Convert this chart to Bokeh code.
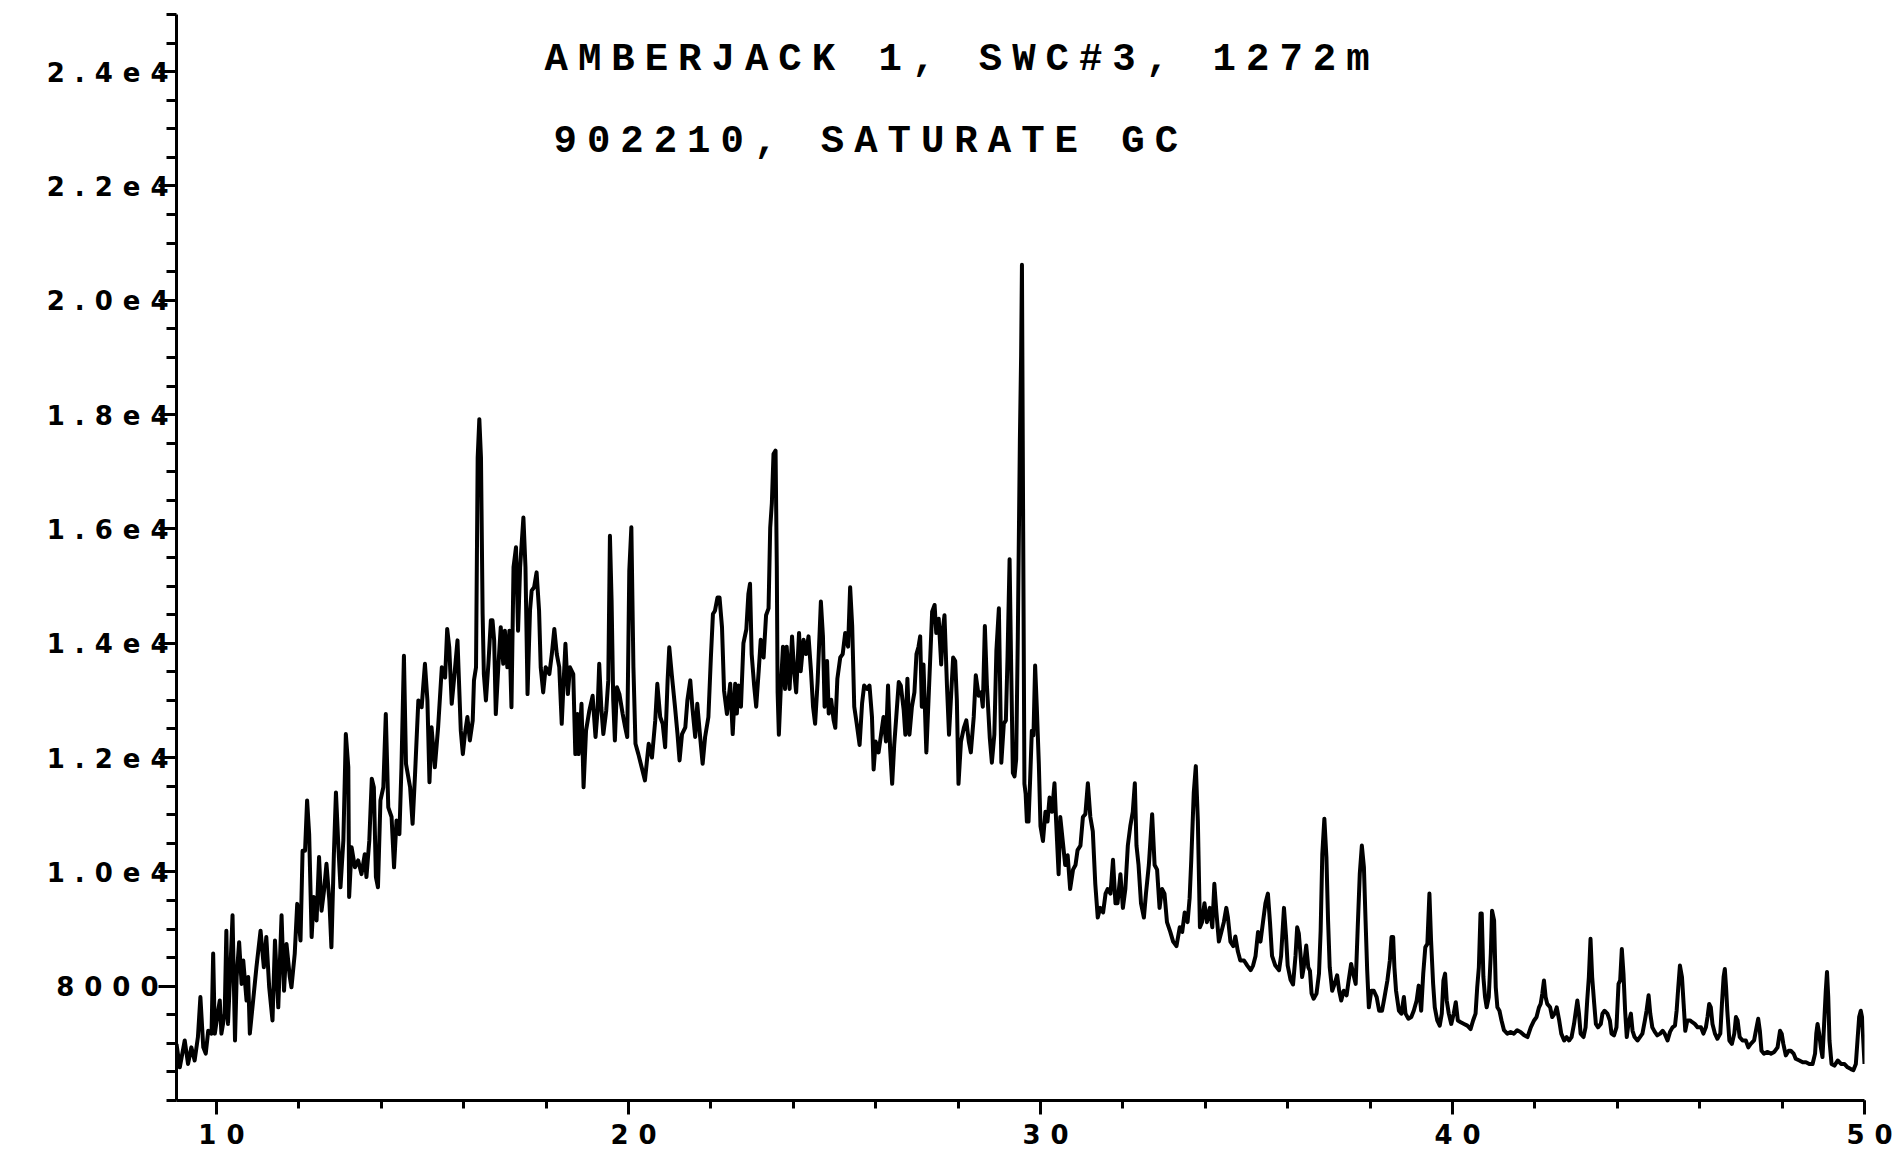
from bokeh.plotting import figure
from bokeh.models import Label, FixedTicker, Range1d, InlineStyleSheet
from bokeh.embed import file_html
from bokeh.resources import INLINE

# Saturate-fraction GC trace: (retention time [min], detector response) by time window
trace_09_16 = [
    (9.03, 6990), (9.11, 6580), (9.23, 7050), (9.31, 6640), (9.39, 6930), (9.47, 6700),
    (9.55, 7110), (9.61, 7810), (9.68, 6930), (9.74, 6820), (9.80, 7220), (9.88, 7170),
    (9.92, 8570), (9.96, 7170), (10.04, 7570), (10.08, 7750), (10.12, 7170), (10.20, 7520),
    (10.24, 8970), (10.28, 7340), (10.34, 8330), (10.39, 9240), (10.45, 7050), (10.49, 8160),
    (10.55, 8770), (10.61, 8040), (10.65, 8450), (10.73, 7750), (10.77, 8160), (10.81, 7170),
    (10.89, 7750), (10.97, 8330), (11.07, 8970), (11.15, 8330), (11.21, 8860), (11.28, 7980),
    (11.36, 7400), (11.42, 8800), (11.50, 7630), (11.58, 9240), (11.64, 7920), (11.70, 8740),
    (11.78, 8160), (11.82, 7980), (11.90, 8570), (11.96, 9440), (12.04, 8800), (12.09, 10370),
    (12.15, 10370), (12.20, 11250), (12.25, 10660), (12.31, 8860), (12.36, 9560), (12.43, 9150),
    (12.49, 10260), (12.55, 9320), (12.61, 9670), (12.67, 10140), (12.74, 9500), (12.79, 8680),
    (12.85, 10310), (12.90, 11390), (12.96, 10430), (13.01, 9730), (13.08, 10550), (13.14, 12410),
    (13.20, 11830), (13.22, 9560), (13.28, 10430), (13.36, 10080), (13.44, 10200), (13.52, 9960),
    (13.60, 10310), (13.64, 9910), (13.71, 10550), (13.77, 11630), (13.82, 11480), (13.87, 9910),
    (13.92, 9730), (13.98, 11250), (14.05, 11480), (14.11, 12760), (14.17, 11130), (14.25, 10960),
    (14.31, 10080), (14.37, 10900), (14.44, 10660), (14.49, 11830), (14.55, 13780), (14.60, 11890),
    (14.70, 11480), (14.76, 10840), (14.82, 11710), (14.90, 13000), (14.98, 12880), (15.06, 13640),
    (15.12, 13000), (15.17, 11570), (15.22, 12530), (15.30, 11830), (15.38, 12530), (15.47, 13580),
    (15.55, 13400), (15.60, 14250), (15.65, 13930), (15.71, 12940), (15.77, 13400), (15.85, 14050),
]

trace_16_23 = [
    (15.93, 12470), (15.98, 12060), (16.03, 12410), (16.09, 12710), (16.15, 12300), (16.22, 12650),
    (16.25, 13350), (16.30, 13580), (16.34, 17250), (16.38, 17920), (16.42, 17250), (16.46, 14510),
    (16.49, 13460), (16.54, 13000), (16.60, 13640), (16.66, 14400), (16.70, 14400), (16.74, 14050),
    (16.78, 12760), (16.84, 13580), (16.90, 14280), (16.96, 13640), (17.00, 14220), (17.06, 13580),
    (17.11, 14220), (17.16, 12880), (17.21, 15330), (17.27, 15680), (17.32, 14220), (17.37, 15330),
    (17.45, 16200), (17.50, 15330), (17.55, 13110), (17.61, 14570), (17.65, 14920), (17.71, 14980),
    (17.77, 15240), (17.83, 14570), (17.87, 13580), (17.93, 13140), (17.99, 13580), (18.08, 13460),
    (18.14, 13810), (18.20, 14250), (18.26, 13810), (18.32, 13580), (18.38, 12590), (18.42, 13230),
    (18.47, 13990), (18.53, 13110), (18.58, 13580), (18.66, 13460), (18.71, 12060), (18.76, 12760),
    (18.79, 12060), (18.86, 12940), (18.91, 11480), (18.97, 12470), (19.05, 12820), (19.13, 13080),
    (19.20, 12360), (19.25, 12820), (19.29, 13640), (19.34, 12880), (19.39, 12410), (19.46, 12820),
    (19.51, 13350), (19.55, 15880), (19.59, 14750), (19.63, 13000), (19.67, 12300), (19.72, 13230),
    (19.78, 13110), (19.86, 12760), (19.92, 12530), (19.97, 12360), (20.02, 15270), (20.07, 16030),
    (20.12, 13580), (20.17, 12240), (20.24, 12060), (20.32, 11830), (20.40, 11600), (20.49, 12240),
    (20.57, 12000), (20.65, 12650), (20.70, 13290), (20.77, 12710), (20.83, 12590), (20.89, 12180),
    (20.95, 13350), (20.99, 13930), (21.05, 13460), (21.13, 12880), (21.19, 12410), (21.24, 11950),
    (21.30, 12410), (21.38, 12530), (21.43, 13000), (21.50, 13350), (21.55, 12880), (21.62, 12360),
    (21.67, 12940), (21.74, 12360), (21.80, 11890), (21.86, 12360), (21.94, 12710), (22.00, 13750),
    (22.05, 14510), (22.10, 14570), (22.16, 14800), (22.21, 14800), (22.27, 14280), (22.32, 13170),
    (22.39, 12760), (22.47, 13290), (22.53, 12410), (22.59, 13290),
]

trace_23_30 = [
    (22.63, 12770), (22.67, 13260), (22.73, 12890), (22.79, 14000), (22.86, 14240), (22.91, 14860),
    (22.95, 15040), (22.99, 13810), (23.05, 13260), (23.10, 12890), (23.16, 13510), (23.21, 14060),
    (23.28, 13750), (23.34, 14490), (23.40, 14610), (23.44, 16020), (23.48, 16450), (23.52, 17310),
    (23.57, 17370), (23.60, 15350), (23.62, 13140), (23.65, 12400), (23.70, 13260), (23.75, 13940),
    (23.80, 13200), (23.84, 13940), (23.91, 13200), (23.97, 14120), (24.02, 13510), (24.07, 13140),
    (24.14, 14180), (24.18, 13510), (24.25, 14060), (24.31, 13810), (24.37, 14120), (24.43, 13510),
    (24.48, 12890), (24.53, 12590), (24.59, 13320), (24.67, 14730), (24.72, 14120), (24.76, 12890),
    (24.82, 13690), (24.86, 12770), (24.92, 13010), (24.98, 12650), (25.02, 12520), (25.07, 13380),
    (25.14, 13750), (25.20, 13810), (25.26, 14180), (25.33, 13940), (25.38, 14980), (25.43, 14300),
    (25.48, 12890), (25.54, 12590), (25.61, 12220), (25.67, 12950), (25.72, 13260), (25.79, 13200),
    (25.85, 13260), (25.91, 12710), (25.95, 11790), (26.00, 12280), (26.07, 12090), (26.13, 12400),
    (26.19, 12710), (26.25, 12280), (26.30, 13260), (26.35, 12160), (26.40, 11540), (26.45, 12220),
    (26.50, 12710), (26.56, 13320), (26.61, 13260), (26.68, 12830), (26.72, 12400), (26.77, 13380),
    (26.82, 12400), (26.88, 12890), (26.94, 13140), (26.99, 13810), (27.04, 13940), (27.08, 14120),
    (27.12, 12890), (27.16, 13630), (27.23, 12090), (27.29, 13140), (27.37, 14550), (27.43, 14670),
    (27.47, 14180), (27.53, 14430), (27.59, 13630), (27.63, 14240), (27.67, 14490), (27.73, 13260),
    (27.78, 12400), (27.83, 13080), (27.88, 13750), (27.93, 13690), (27.97, 13010), (28.01, 11540),
    (28.07, 12280), (28.14, 12520), (28.20, 12650), (28.26, 12280), (28.31, 12090), (28.38, 12710),
    (28.43, 13440), (28.50, 13080), (28.56, 13140), (28.60, 12890), (28.65, 14300), (28.70, 13260),
    (28.77, 12340), (28.82, 11910), (28.88, 12400), (28.93, 13870), (28.99, 14610), (29.05, 11910),
    (29.11, 12590), (29.16, 12650), (29.20, 13750), (29.25, 15470), (29.29, 13510), (29.33, 11730),
    (29.37, 11670), (29.41, 11970), (29.45, 14120), (29.50, 17550), (29.53, 19030), (29.55, 20620),
    (29.58, 15960), (29.61, 11540), (29.64, 11360),
]

trace_30_36 = [
    (29.67, 10880), (29.71, 10880), (29.75, 11640), (29.79, 12470), (29.83, 12390), (29.87, 13610),
    (29.91, 12890), (29.96, 11890), (30.00, 10800), (30.06, 10540), (30.12, 11050), (30.17, 10880),
    (30.22, 11300), (30.28, 11050), (30.34, 11550), (30.38, 10880), (30.44, 9960), (30.48, 10960),
    (30.54, 10540), (30.60, 10120), (30.66, 10290), (30.72, 9700), (30.79, 10040), (30.85, 10120),
    (30.90, 10380), (30.97, 10460), (31.03, 10960), (31.09, 11010), (31.15, 11550), (31.21, 10960),
    (31.27, 10710), (31.33, 9790), (31.39, 9200), (31.45, 9370), (31.52, 9290), (31.58, 9620),
    (31.63, 9700), (31.70, 9620), (31.76, 10210), (31.82, 9450), (31.87, 9450), (31.94, 9960),
    (32.00, 9370), (32.06, 9700), (32.12, 10460), (32.18, 10800), (32.24, 11050), (32.29, 11550),
    (32.33, 10460), (32.38, 10120), (32.44, 9450), (32.51, 9200), (32.56, 9620), (32.63, 10120),
    (32.71, 11010), (32.77, 10120), (32.83, 10040), (32.89, 9370), (32.95, 9700), (33.01, 9620),
    (33.07, 9120), (33.15, 8950), (33.22, 8780), (33.30, 8700), (33.38, 9030), (33.44, 8950),
    (33.50, 9290), (33.57, 9120), (33.62, 9540), (33.66, 10210), (33.72, 11380), (33.77, 11850),
    (33.82, 10880), (33.87, 9030), (33.92, 9120), (33.98, 9450), (34.04, 9120), (34.11, 9370),
    (34.17, 9030), (34.22, 9790), (34.27, 9290), (34.33, 8780), (34.39, 8950), (34.45, 9120),
    (34.51, 9370), (34.55, 9200), (34.61, 8780), (34.68, 8700), (34.73, 8870), (34.79, 8610),
    (34.85, 8450), (34.94, 8450), (35.02, 8360), (35.10, 8280), (35.16, 8360), (35.22, 8530),
    (35.28, 8950), (35.34, 8780), (35.40, 9120), (35.46, 9450), (35.52, 9620), (35.57, 9120),
    (35.62, 8530), (35.70, 8360), (35.79, 8280), (35.84, 8530), (35.91, 9370), (35.96, 8870),
    (36.00, 8360), (36.07, 8110), (36.13, 8030), (36.19, 8530),
]

trace_36_43 = [
    (36.23, 9030), (36.27, 8920), (36.31, 8570), (36.35, 8160), (36.39, 8330), (36.45, 8710),
    (36.50, 8330), (36.54, 8270), (36.58, 7870), (36.63, 7780), (36.70, 7870), (36.76, 8220),
    (36.80, 8970), (36.84, 10310), (36.89, 10930), (36.94, 10260), (36.98, 9150), (37.02, 8330),
    (37.08, 7920), (37.14, 8040), (37.20, 8190), (37.25, 7920), (37.30, 7750), (37.36, 7920),
    (37.43, 7840), (37.48, 8100), (37.54, 8390), (37.59, 8220), (37.65, 8040), (37.70, 9030),
    (37.75, 9970), (37.80, 10460), (37.85, 10080), (37.89, 9150), (37.93, 8270), (37.97, 7630),
    (38.03, 7920), (38.09, 7920), (38.16, 7810), (38.22, 7570), (38.29, 7570), (38.35, 7810),
    (38.42, 8100), (38.48, 8450), (38.52, 8860), (38.56, 8860), (38.59, 8330), (38.63, 7920),
    (38.70, 7570), (38.76, 7520), (38.82, 7810), (38.86, 7520), (38.93, 7430), (39.00, 7460),
    (39.06, 7570), (39.13, 7750), (39.18, 8010), (39.24, 7570), (39.29, 8220), (39.34, 8680),
    (39.39, 8740), (39.44, 9620), (39.48, 8800), (39.53, 8040), (39.57, 7630), (39.63, 7400),
    (39.69, 7310), (39.74, 7520), (39.78, 8100), (39.82, 8220), (39.86, 7750), (39.91, 7520),
    (39.97, 7340), (40.03, 7520), (40.08, 7720), (40.13, 7400), (40.20, 7370), (40.28, 7340),
    (40.36, 7310), (40.44, 7250), (40.50, 7400), (40.56, 7520), (40.60, 7980), (40.64, 8330),
    (40.68, 9270), (40.71, 9270), (40.75, 8160), (40.79, 7810), (40.83, 7630), (40.88, 7810),
    (40.93, 8570), (40.96, 9320), (41.01, 9150), (41.05, 7980), (41.09, 7630), (41.14, 7570),
    (41.19, 7400), (41.25, 7230), (41.33, 7170), (41.41, 7200), (41.49, 7170), (41.57, 7230),
    (41.65, 7200), (41.74, 7140), (41.82, 7110), (41.90, 7280), (41.98, 7400), (42.04, 7460),
    (42.10, 7630), (42.14, 7690), (42.18, 7870), (42.22, 8100), (42.26, 7810), (42.30, 7690),
    (42.37, 7630), (42.42, 7460), (42.48, 7520), (42.53, 7630), (42.59, 7400), (42.64, 7170),
    (42.71, 7050), (42.77, 7110), (42.83, 7050), (42.89, 7110), (42.95, 7340),
]

trace_43_50 = [
    (43.03, 7750), (43.07, 7520), (43.11, 7170), (43.18, 7110), (43.23, 7280), (43.27, 7750),
    (43.31, 8160), (43.35, 8830), (43.39, 8160), (43.44, 7690), (43.48, 7340), (43.53, 7280),
    (43.60, 7340), (43.64, 7520), (43.69, 7570), (43.76, 7520), (43.82, 7400), (43.86, 7170),
    (43.92, 7140), (43.98, 7280), (44.03, 8040), (44.07, 8100), (44.11, 8650), (44.15, 8220),
    (44.19, 7570), (44.23, 7110), (44.27, 7340), (44.33, 7520), (44.37, 7220), (44.42, 7110),
    (44.49, 7050), (44.55, 7110), (44.61, 7170), (44.67, 7400), (44.71, 7570), (44.76, 7840),
    (44.80, 7520), (44.85, 7280), (44.91, 7200), (44.97, 7140), (45.04, 7170), (45.10, 7220),
    (45.15, 7170), (45.22, 7050), (45.28, 7200), (45.34, 7280), (45.40, 7310), (45.44, 7570),
    (45.48, 7980), (45.52, 8360), (45.57, 8160), (45.61, 7690), (45.65, 7220), (45.70, 7400),
    (45.77, 7400), (45.82, 7370), (45.88, 7340), (45.95, 7280), (46.03, 7280), (46.09, 7170),
    (46.15, 7280), (46.19, 7460), (46.23, 7690), (46.27, 7630), (46.31, 7340), (46.37, 7170),
    (46.43, 7080), (46.50, 7170), (46.54, 7690), (46.58, 8160), (46.61, 8300), (46.64, 7980),
    (46.67, 7570), (46.72, 7050), (46.78, 6990), (46.84, 7170), (46.88, 7460), (46.92, 7400),
    (46.97, 7110), (47.04, 7050), (47.12, 7050), (47.18, 6930), (47.24, 6990), (47.32, 7050),
    (47.38, 7280), (47.42, 7430), (47.46, 7220), (47.50, 6870), (47.56, 6820), (47.65, 6850),
    (47.73, 6820), (47.81, 6850), (47.89, 6930), (47.95, 7220), (47.99, 7170), (48.03, 6990),
    (48.09, 6790), (48.16, 6870), (48.21, 6870), (48.28, 6820), (48.33, 6730), (48.42, 6700),
    (48.50, 6670), (48.58, 6670), (48.66, 6640), (48.74, 6640), (48.80, 6820), (48.83, 7170),
    (48.86, 7340), (48.90, 7170), (48.94, 6930), (48.98, 6760), (49.02, 7340), (49.06, 7920),
    (49.09, 8250), (49.12, 7810), (49.15, 7050), (49.20, 6640), (49.27, 6610), (49.35, 6700),
    (49.43, 6640), (49.51, 6640), (49.59, 6580), (49.67, 6550), (49.73, 6530), (49.79, 6640),
    (49.83, 7050), (49.87, 7460), (49.91, 7570), (49.94, 7460), (49.97, 7050), (50.00, 6640),
]

# Axis ticks and labels
x_major = [10, 20, 30, 40, 50]
x_minor = [10, 12, 14, 16, 18, 20, 22, 24, 26, 28, 30, 32, 34, 36, 38, 40, 42, 44, 46, 48, 50]
y_major = [8000, 10000, 12000, 14000, 16000, 18000, 20000, 22000, 24000]
y_labels = ["8000", "1.0e4", "1.2e4", "1.4e4", "1.6e4", "1.8e4", "2.0e4", "2.2e4", "2.4e4"]
y_minor = list(range(6000, 25001, 500))

title_lines = ["AMBERJACK 1, SWC#3, 1272m", "902210, SATURATE GC"]

segments = [trace_09_16, trace_16_23, trace_23_30, trace_30_36, trace_36_43, trace_43_50]
rt = [t for seg in segments for t, _ in seg]
response = [r for seg in segments for _, r in seg]

p = figure(
    width=1903, height=1161,
    x_range=Range1d(9.03, 50.0), y_range=Range1d(6000, 25000),
    output_backend="svg", toolbar_location=None,
    min_border_left=176, min_border_right=39, min_border_top=14, min_border_bottom=61,
    background_fill_color="white", border_fill_color="white",
)
p.outline_line_color = None
p.xgrid.visible = False
p.ygrid.visible = False

# wide plotter-style lettering
p.stylesheets = [InlineStyleSheet(css=":host { letter-spacing: 10px; }")]

p.line(rt, response, line_color="black", line_width=4, line_join="round")

xa = p.xaxis[0]
xa.ticker = FixedTicker(ticks=x_major, minor_ticks=x_minor)
xa.major_tick_out = 14
xa.minor_tick_out = 8
xa.major_label_standoff = 9

ya = p.yaxis[0]
ya.ticker = FixedTicker(ticks=y_major, minor_ticks=y_minor)
ya.major_label_overrides = {v: s for v, s in zip(y_major, y_labels)}
ya.major_tick_out = 18
ya.minor_tick_out = 10
ya.major_label_standoff = 30

for ax in (xa, ya):
    ax.axis_line_color = "black"
    ax.axis_line_width = 3
    ax.major_tick_line_color = "black"
    ax.major_tick_line_width = 3
    ax.minor_tick_line_color = "black"
    ax.minor_tick_line_width = 3
    ax.major_tick_in = 0
    ax.minor_tick_in = 0
    ax.major_label_text_font = "DejaVu Sans"
    ax.major_label_text_font_style = "bold"
    ax.major_label_text_font_size = "26px"
    ax.major_label_text_color = "black"

for line, xs, ys in zip(title_lines, [368, 377], [1041, 959]):
    p.add_layout(Label(
        x=xs, y=ys, x_units="screen", y_units="screen", text=line,
        text_font="Liberation Mono", text_font_style="bold", text_font_size="39px",
        text_color="black", text_align="left", text_baseline="alphabetic",
    ))

open("out.html", "w").write(file_html(p, INLINE))
